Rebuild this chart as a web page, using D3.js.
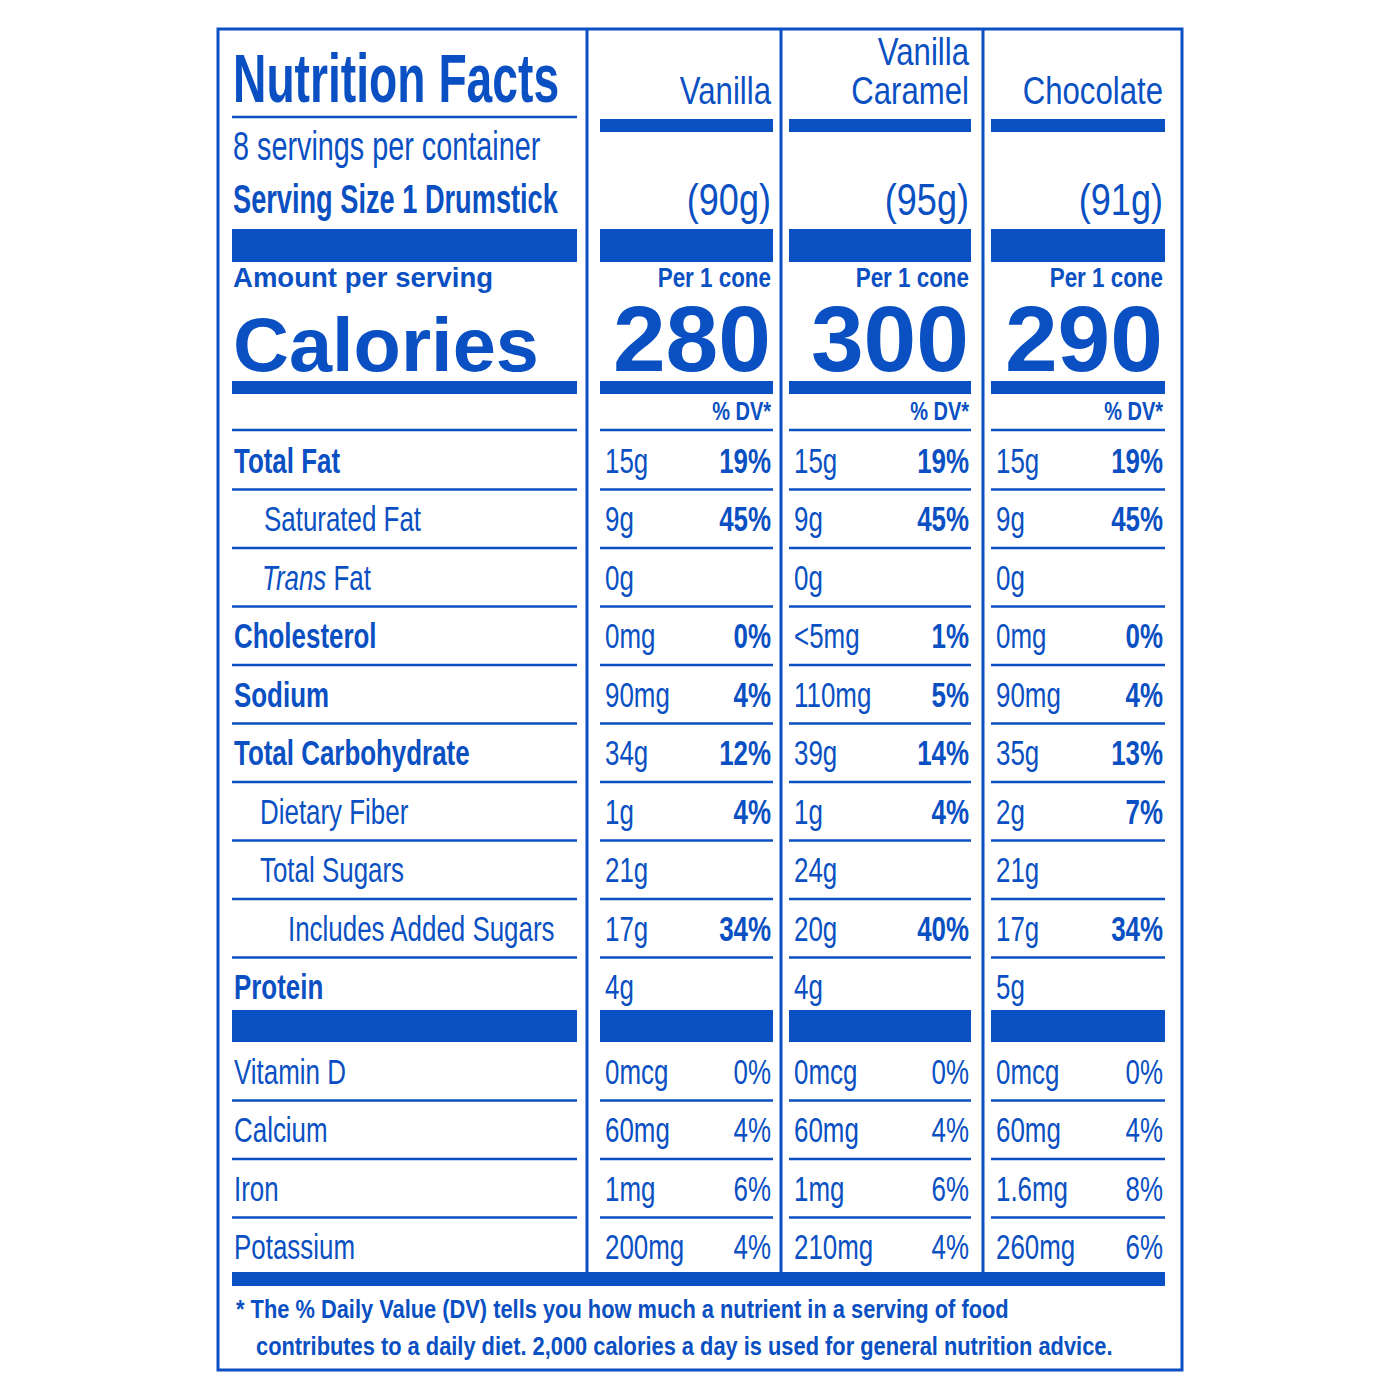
<!DOCTYPE html>
<html><head><meta charset="utf-8">
<script src="https://cdn.jsdelivr.net/npm/d3@7"></script>
<style>body{margin:0;background:#fff}</style>
</head><body><div id="label"></div>
<script>
const blue = "#0a50c2";
const font = "'Liberation Sans', Arial, sans-serif";
const squeeze = 0.72; // condensed look

const flavors = [["Vanilla"], ["Vanilla", "Caramel"], ["Chocolate"]];
const weights = ["(90g)", "(95g)", "(91g)"];
const calories = ["280", "300", "290"];
const nutrients = [
  {name: "Total Fat", bold: true, indent: 0},
  {name: "Saturated Fat", bold: false, indent: 30},
  {name: "Trans Fat", bold: false, indent: 28, italic: "Trans"},
  {name: "Cholesterol", bold: true, indent: 0},
  {name: "Sodium", bold: true, indent: 0},
  {name: "Total Carbohydrate", bold: true, indent: 0},
  {name: "Dietary Fiber", bold: false, indent: 26},
  {name: "Total Sugars", bold: false, indent: 26},
  {name: "Includes Added Sugars", bold: false, indent: 54},
  {name: "Protein", bold: true, indent: 0}
];
const amounts = [
  ["15g", "9g", "0g", "0mg", "90mg", "34g", "1g", "21g", "17g", "4g"],
  ["15g", "9g", "0g", "<5mg", "110mg", "39g", "1g", "24g", "20g", "4g"],
  ["15g", "9g", "0g", "0mg", "90mg", "35g", "2g", "21g", "17g", "5g"]
];
const dvs = [
  ["19%", "45%", "", "0%", "4%", "12%", "4%", "", "34%", ""],
  ["19%", "45%", "", "1%", "5%", "14%", "4%", "", "40%", ""],
  ["19%", "45%", "", "0%", "4%", "13%", "7%", "", "34%", ""]
];
const vitamins = ["Vitamin D", "Calcium", "Iron", "Potassium"];
const vitAmounts = [
  ["0mcg", "60mg", "1mg", "200mg"],
  ["0mcg", "60mg", "1mg", "210mg"],
  ["0mcg", "60mg", "1.6mg", "260mg"]
];
const vitDvs = [
  ["0%", "4%", "6%", "4%"],
  ["0%", "4%", "6%", "4%"],
  ["0%", "4%", "8%", "6%"]
];
const footnote = [
  "* The % Daily Value (DV) tells you how much a nutrient in a serving of food",
  "contributes to a daily diet. 2,000 calories a day is used for general nutrition advice."
];

const svg = d3.select("#label").append("svg").attr("width", 1400).attr("height", 1400);

// column extents
const cols = [[600, 773], [789, 971], [991, 1165]];
const left = [232, 577];
const dividers = [587, 781, 983];

// outer frame
svg.append("rect").attr("x", 218).attr("y", 29).attr("width", 964).attr("height", 1341)
  .attr("fill", "none").attr("stroke", blue).attr("stroke-width", 3);
svg.selectAll(".div").data(dividers).enter().append("line")
  .attr("x1", d => d).attr("x2", d => d).attr("y1", 29).attr("y2", 1272)
  .attr("stroke", blue).attr("stroke-width", 3);

function text(x, y, s, size, opts = {}) {
  const sx = opts.sx || squeeze;
  return svg.append("text").text(s)
    .attr("transform", `translate(${x},${y}) scale(${sx},1)`)
    .attr("fill", blue).attr("font-size", size)
    .attr("font-family", font)
    .attr("font-weight", opts.weight || "normal")
    .attr("text-anchor", opts.anchor || "start");
}
function bar(x0, x1, y, h) {
  svg.append("rect").attr("x", x0).attr("y", y).attr("width", x1 - x0).attr("height", h).attr("fill", blue);
}
function hline(x0, x1, y) {
  svg.append("line").attr("x1", x0).attr("x2", x1).attr("y1", y).attr("y2", y)
    .attr("stroke", blue).attr("stroke-width", 2.5);
}

// header
text(233, 102, "Nutrition Facts", 68, {weight: "bold", sx: 0.68});
hline(232, 577, 117);
text(233, 160, "8 servings per container", 40);
text(233, 213, "Serving Size 1 Drumstick", 40, {weight: "bold", sx: 0.68});
flavors.forEach((f, i) => {
  f.forEach((line, j) => text(cols[i][1] - 2, 104 - (f.length - 1 - j) * 39, line, 38, {anchor: "end", sx: 0.82}));
  bar(cols[i][0], cols[i][1], 119, 13);
  text(cols[i][1] - 2, 215, weights[i], 44, {anchor: "end", sx: 0.82});
  bar(cols[i][0], cols[i][1], 229, 33);
  text(cols[i][1] - 2, 287, "Per 1 cone", 28, {weight: "bold", anchor: "end", sx: 0.8});
  text(cols[i][1] - 2, 371, calories[i], 92, {weight: "bold", anchor: "end", sx: 1.03});
  bar(cols[i][0], cols[i][1], 381, 13);
  text(cols[i][1] - 2, 420, "% DV*", 25, {weight: "bold", anchor: "end", sx: 0.8});
  hline(cols[i][0], cols[i][1], 430);
});
bar(left[0], left[1], 229, 33);
text(233, 287, "Amount per serving", 27, {weight: "bold", sx: 1.02});
text(233, 371, "Calories", 76, {weight: "bold", sx: 1.02});
bar(left[0], left[1], 381, 13);
hline(left[0], left[1], 430);

// nutrient rows
const y = d3.scaleLinear().domain([0, 1]).range([430, 488.5]);
nutrients.forEach((n, r) => {
  const base = y(r + 1) - 16;
  const t = text(left[0] + 2 + n.indent, base, "", 36, {weight: n.bold ? "bold" : "normal"});
  if (n.italic) {
    t.append("tspan").attr("font-style", "italic").text(n.italic);
    t.append("tspan").text(n.name.slice(n.italic.length));
  } else t.text(n.name);
  if (r < nutrients.length - 1) hline(left[0], left[1], y(r + 1) + 1);
  cols.forEach((c, i) => {
    text(c[0] + 5, base, amounts[i][r], 36);
    text(c[1] - 2, base, dvs[i][r], 36, {weight: "bold", anchor: "end"});
    if (r < nutrients.length - 1) hline(c[0], c[1], y(r + 1) + 1);
  });
});

// vitamins
const vy = d3.scaleLinear().domain([0, 1]).range([1042, 1100.5]);
bar(left[0], left[1], 1010, 32);
cols.forEach(c => bar(c[0], c[1], 1010, 32));
vitamins.forEach((v, r) => {
  const base = vy(r + 1) - 17;
  text(left[0] + 2, base, v, 36);
  if (r < vitamins.length - 1) hline(left[0], left[1], vy(r + 1));
  cols.forEach((c, i) => {
    text(c[0] + 5, base, vitAmounts[i][r], 36);
    text(c[1] - 2, base, vitDvs[i][r], 36, {anchor: "end"});
    if (r < vitamins.length - 1) hline(c[0], c[1], vy(r + 1));
  });
});

// footer
bar(232, 1165, 1272, 14);
text(236, 1318, footnote[0], 26, {weight: "bold", sx: 0.84});
text(256, 1355, footnote[1], 26, {weight: "bold", sx: 0.84});
</script></body></html>
